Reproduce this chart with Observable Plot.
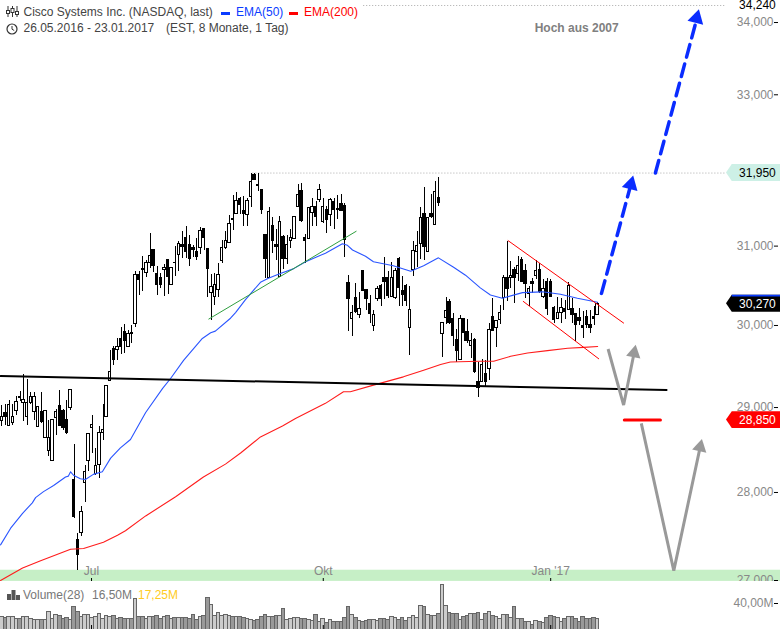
<!DOCTYPE html>
<html>
<head>
<meta charset="utf-8">
<script src="https://cdn.jsdelivr.net/npm/d3@7"></script>
<script src="https://cdn.jsdelivr.net/npm/@observablehq/plot@0.6"></script>
<style>
html,body{margin:0;padding:0;background:#fff;}
body{width:780px;height:629px;position:relative;overflow:hidden;font-family:"Liberation Sans",Arial,sans-serif;}
#chart svg{display:block;}
.t{position:absolute;font-size:12px;line-height:14px;white-space:pre;color:#444;}
.i{position:absolute;display:block;}
</style>
</head>
<body>
<div id="chart"></div>
<svg class="i" style="left:6px;top:6px" width="13" height="12" viewBox="0 0 13 12"><g stroke="#333" fill="none"><path d="M2 0v11M6.500 0v11M11 0v11"/><rect x="0.500" y="4.500" width="3" height="3" fill="#fff"/><rect x="5" y="2.500" width="3" height="4" fill="#fff"/><rect x="9.500" y="5.500" width="3" height="3" fill="#fff"/></g></svg>
<div class="t" style="left:23.500px;top:5px">Cisco Systems Inc. (NASDAQ, last)</div>
<div class="i" style="left:221px;top:12px;width:9px;height:3px;background:#0a3cff"></div>
<div class="t" style="left:236px;top:5px;color:#0a3cff">EMA(50)</div>
<div class="i" style="left:289px;top:12px;width:9px;height:3px;background:#f00"></div>
<div class="t" style="left:304px;top:5px;color:#f00">EMA(200)</div>
<svg class="i" style="left:6px;top:23px" width="12" height="12" viewBox="0 0 12 12"><circle cx="6" cy="6" r="5" fill="none" stroke="#333" stroke-width="1.200"/><path d="M6 3v3.200l2.200 1.300" fill="none" stroke="#333"/></svg>
<div class="t" style="left:23.500px;top:21px">26.05.2016 - 23.01.2017</div>
<div class="t" style="left:166px;top:21px">(EST, 8 Monate, 1 Tag)</div>
<svg class="i" style="left:7px;top:590px" width="13" height="10" viewBox="0 0 13 10"><path d="M0 4h4v6H0zM4.500 0h4v10h-4zM9 5h4v5H9z" fill="#555"/></svg>
<div class="t" style="left:23px;top:588px;color:#777">Volume(28)</div>
<div class="t" style="left:92px;top:588px;color:#777">16,50M</div>
<div class="t" style="left:138px;top:588px;color:#ffcc22">17,25M</div>
<script>
// Daily candles of Cisco, 26.05.2016 - 23.01.2017 (USD), one entry per trading day
const opens = [28.84,28.94,28.78,28.82,28.96,29.13,29.05,28.89,29.06,28.95,
28.77,28.95,28.64,28.48,28.37,28.87,29.02,28.96,28.85,29.00,
28.15,27.46,27.53,28.11,28.37,28.76,28.22,28.32,28.70,28.89,
29.32,29.71,29.70,29.83,29.92,29.74,29.91,30.02,30.63,30.71,
30.66,30.79,30.95,30.65,30.60,30.69,30.82,30.50,30.79,30.89,
31.01,31.10,31.01,30.97,30.92,30.97,31.22,30.96,30.40,30.36,
30.44,30.81,30.97,31.04,31.35,31.41,31.61,31.45,31.40,31.64,
31.93,31.79,31.73,31.14,30.60,31.26,31.01,30.61,31.12,30.84,
31.06,31.09,31.50,31.71,31.10,31.09,31.43,31.51,31.60,31.31,
31.47,31.40,31.57,31.48,31.54,31.52,30.53,30.08,30.34,30.13,
30.68,30.44,30.27,29.99,30.33,30.49,30.59,30.59,30.35,30.34,
30.84,30.43,30.49,29.97,30.70,30.93,31.03,31.41,30.92,31.42,
31.27,31.62,29.90,30.09,30.29,30.08,29.82,29.58,30.08,29.92,
29.75,29.82,29.31,29.31,29.41,29.47,30.10,29.97,30.07,30.34,
30.60,30.59,30.70,30.64,30.82,30.68,30.39,30.54,30.62,30.70,
30.36,30.55,30.54,30.22,30.08,30.16,30.21,30.19,30.21,30.14,
30.09,29.99,30.11,30.00,30.11,30.13];
const closes = [28.89,28.89,29.03,28.89,29.07,29.11,29.09,29.06,29.13,29.13,
29.01,28.83,28.96,28.64,28.85,28.95,28.78,28.76,28.70,29.21,
27.72,27.29,27.77,28.24,28.68,28.79,28.31,28.70,28.73,29.26,
29.43,29.58,29.74,29.74,29.81,29.90,29.90,30.63,30.57,30.69,
30.78,30.87,30.75,30.51,30.51,30.72,30.61,30.72,30.78,31.03,
30.99,30.93,30.84,30.95,30.86,31.19,31.11,30.71,30.48,30.51,
30.63,30.97,31.06,31.28,31.33,31.58,31.53,31.42,31.58,31.83,
31.86,31.78,31.46,30.84,31.44,31.06,30.99,31.31,30.83,31.01,
31.10,31.37,31.66,31.32,31.07,31.49,31.50,31.38,31.73,31.50,
31.34,31.60,31.47,31.46,31.45,31.08,30.33,30.16,30.17,30.21,
30.43,30.33,30.14,30.13,30.45,30.33,30.54,30.37,30.59,30.68,
30.47,30.38,30.31,30.19,30.94,31.00,31.36,30.99,31.36,31.37,
31.70,31.56,30.03,30.18,30.03,29.87,29.69,30.08,29.91,29.81,
29.81,29.43,29.24,29.52,29.31,29.94,29.93,30.05,30.16,30.59,
30.45,30.62,30.59,30.74,30.55,30.52,30.45,30.52,30.68,30.42,
30.45,30.21,30.36,30.07,30.16,30.22,30.17,30.49,30.13,30.01,
30.05,29.97,30.00,29.97,30.08,30.27];
const highs = [29.02,29.04,29.09,29.04,29.13,29.19,29.40,29.34,29.18,29.18,
29.01,29.18,28.97,28.85,28.85,28.98,29.21,28.98,29.09,29.22,
28.56,27.53,27.84,28.31,28.68,28.91,28.51,28.77,29.04,29.27,
29.69,29.74,29.84,29.97,30.01,29.94,30.00,30.68,30.68,30.87,
30.81,31.16,30.96,30.74,30.65,30.76,30.82,30.73,30.99,31.06,
31.19,31.25,31.14,31.01,31.10,31.24,31.23,30.96,30.64,30.65,
30.78,31.07,31.19,31.39,31.65,31.70,31.63,31.64,31.61,31.94,
31.94,31.94,31.73,31.14,31.50,31.37,31.21,31.38,31.14,31.14,
31.21,31.38,31.80,31.81,31.15,31.50,31.62,31.58,31.80,31.62,
31.51,31.62,31.62,31.66,31.67,31.55,30.63,30.25,30.53,30.41,
30.68,30.44,30.37,30.19,30.49,30.51,30.86,30.68,30.79,30.72,
30.86,30.61,30.51,30.49,31.06,31.19,31.50,31.76,31.36,31.67,
31.84,31.89,30.03,30.35,30.32,30.15,29.95,30.13,30.08,30.08,
29.90,29.84,29.55,29.58,29.57,30.02,30.33,30.05,30.25,30.63,
31.06,30.80,30.73,30.87,30.86,30.76,30.49,30.59,30.81,30.78,
30.57,30.59,30.57,30.24,30.35,30.34,30.31,30.54,30.34,30.15,
30.21,30.17,30.19,30.18,30.24,30.29];
const lows = [28.77,28.79,28.77,28.79,28.91,29.07,28.83,28.79,29.04,28.85,
28.77,28.81,28.63,28.42,28.37,28.67,28.77,28.73,28.68,28.96,
27.70,27.11,27.49,27.89,28.24,28.46,28.20,28.16,28.61,28.88,
29.32,29.51,29.57,29.64,29.65,29.74,29.78,29.98,30.37,30.43,
30.60,30.71,30.66,30.37,30.46,30.36,30.39,30.50,30.61,30.68,
30.84,30.84,30.74,30.85,30.82,30.89,30.95,30.35,30.06,30.25,
30.35,30.78,30.96,31.04,31.20,31.41,31.41,31.25,31.25,31.50,
31.86,31.71,31.41,30.59,30.60,30.91,30.82,30.61,30.70,30.76,
30.97,31.09,31.50,31.31,30.78,31.09,31.25,31.25,31.57,31.29,
31.16,31.25,31.21,31.34,31.45,30.85,29.93,29.86,30.15,30.09,
30.43,30.19,30.03,29.92,30.30,30.23,30.32,30.34,30.35,30.32,
30.23,30.23,30.24,29.63,30.61,30.73,30.83,30.81,30.92,31.35,
31.27,31.51,29.60,30.01,30.01,29.74,29.55,29.57,29.80,29.78,
29.59,29.41,29.12,29.30,29.25,29.33,29.93,29.73,30.01,30.19,
30.30,30.46,30.27,30.55,30.54,30.34,30.24,30.40,30.57,30.40,
30.34,30.13,30.36,30.02,30.07,30.02,30.08,30.18,30.02,29.80,
30.00,29.84,29.96,29.90,30.00,30.13];
// Volume in millions of shares
const volumes = [19.0,17.4,19.0,19.0,16.4,15.4,19.0,20.0,16.4,14.9,
14.9,14.9,14.9,26.7,16.4,22.6,20.5,16.4,18.0,13.9,
34.9,26.7,19.0,22.6,22.6,18.0,19.0,24.1,16.4,21.5,
19.0,20.5,16.4,18.0,16.4,16.4,16.4,47.2,19.0,19.0,
16.4,19.0,20.0,20.5,16.4,20.0,20.5,16.4,17.4,18.0,
17.4,18.0,15.4,22.6,14.9,19.0,20.5,48.7,38.0,21.5,
25.7,21.5,22.6,21.5,20.0,19.0,19.0,18.0,16.4,14.9,
12.8,13.9,19.0,22.6,19.0,20.0,21.5,21.5,31.8,13.9,
16.4,18.0,18.0,16.4,16.4,13.9,12.8,22.6,12.3,15.4,
10.3,13.9,12.3,12.3,12.3,18.0,34.9,22.6,18.0,12.8,
12.3,12.8,14.9,14.9,12.8,15.4,16.4,14.9,20.0,18.0,
14.9,18.0,12.8,18.0,21.5,18.0,36.9,34.9,22.6,21.0,
21.0,24.1,68.7,36.4,25.7,24.1,23.1,14.9,19.5,21.5,
24.1,23.1,25.7,14.9,24.1,26.7,21.5,19.0,16.4,22.6,
22.6,17.4,34.9,16.4,16.4,11.3,11.3,7.2,12.8,11.3,
10.3,18.0,20.5,19.0,18.0,11.3,16.4,19.5,19.5,16.4,
12.3,19.0,15.4,15.4,18.0,16.4];
// Moving averages read at (trading-day index, price)
const ema50Days = [-0.4,2.4,5.7,8.4,9.3,11.5,14.3,17.6,18.4,19,19.8,21.7,23.1,25.3,27.8,30.1,32.8,35.6,39.8,44.5,46.7,50.3,55.5,57.8,59.1,63.3,64.7,67.4,71.6,73.8,77.1,80.7,84.1,89.6,94.3,95.7,97.1,100.7,102.9,108.4,113.2,116.8,120.9,125.1,128.4,132.5,135.3,138.6,144.2,149.7,154.7,159.4,165];
const ema50Prices = [27.40,27.59,27.76,27.88,27.94,28.01,28.08,28.18,28.19,28.24,28.20,28.16,28.15,28.21,28.24,28.40,28.52,28.62,28.94,29.23,29.35,29.57,29.84,29.91,29.93,30.09,30.16,30.32,30.54,30.59,30.65,30.71,30.80,30.91,31.03,31.01,30.95,30.87,30.80,30.75,30.68,30.75,30.85,30.73,30.63,30.47,30.38,30.34,30.41,30.42,30.39,30.34,30.29];
const ema200Days = [-0.4,5.7,10.7,19,22.6,28.1,32,34.2,39.8,48.1,55.8,61.9,66.1,71.6,77.7,81.3,89.6,94.6,96.5,102.9,111.2,116.8,121.5,124.2,132,136.2,140.9,145.6,151.1,156.7,161.1,165];
const ema200Prices = [27.00,27.14,27.22,27.35,27.36,27.43,27.51,27.56,27.73,27.95,28.18,28.33,28.46,28.65,28.78,28.87,29.05,29.19,29.19,29.27,29.37,29.45,29.52,29.55,29.56,29.56,29.62,29.66,29.69,29.72,29.73,29.74];
// Axis
const priceTicks = [27,28,29,30,31,32,33,34];
const volumeTicks = [40];
const monthDays = [24.8,89,152];
const monthLabels = ["Jul","Okt","Jan '17"];
// Drawn trend lines: [day, price] pairs
const supportLine = [[-0.4,29.38],[184.1,29.21]];
const greenLine = [[57.3,30.08],[98.1,31.19]];
const channelUpper = [[140.2,31.07],[172.2,30.03]];
const channelLower = [[144.4,30.30],[165.3,29.59]];
const blueLeg1 = [[166.07,30.40],[174.1,31.78]];
const blueLeg2 = [[181,31.95],[192.2,34.0]];
const grayLeg1 = [[167.9,29.71],[172.2,29.03],[175.1,29.66]];
const grayLeg2 = [[177.1,28.81],[186.1,27.11],[193.4,28.53]];
const redBar = [[172.4,28.85],[182.4,28.85]];
const blueHeads = [{d:174.2,p:31.80,a:14.7},{d:192.4,p:34.06,a:14.8}];
const grayHeads = [{d:175.1,p:29.66,a:11.3},{d:193.4,p:28.53,a:12.4}];
const hoch = 34.24, resist = 31.95, lastPrice = 30.27, stopPrice = 28.85;

const candles = opens.map((o,i)=>({i,o,c:closes[i],h:highs[i],l:lows[i],v:volumes[i],up:closes[i]>=o}));
const xScale = {type:"linear",domain:[-0.4155,215.66],range:[0,780]};
const fmtP = d=>d.toFixed(3).replace(".",",");
const xy = a=>({x:d=>d[0],y:d=>d[1]});
const flag = (p,fill)=>{
  const k=1.0035;
  return Plot.area([[200.7,p,p],[202.3,p*k,p/k],[215.7,p*k,p/k]],{x1:d=>d[0],y1:d=>d[1],y2:d=>d[2],fill});
};
const labelDay = 214.35;

const price = Plot.plot({
  width:780,height:581,margin:0,
  style:{overflow:"hidden",background:"#fff",fontFamily:"'Liberation Sans',Arial,sans-serif",fontSize:"12px"},
  x:{...xScale,axis:null},
  y:{type:"log",domain:[27,34.24],range:[580,5],axis:null},
  marks:[
    Plot.rect([{}],{x1:-0.4155,x2:215.66,y1:27.115,y2:26.99,fill:"#c6efc6"}),
    Plot.ruleY([26.99],{stroke:"#888",strokeWidth:1,shapeRendering:"crispEdges"}),
    Plot.axisY(priceTicks,{anchor:"left",dx:778,tickSize:4,tickPadding:1,tickFormat:fmtP,stroke:"#000",fill:"#888",fontSize:12,label:null}),
    Plot.axisX(monthDays,{anchor:"top",dy:581,tickSize:4,tickPadding:3,tickFormat:(d,i)=>monthLabels[i],stroke:"#000",fill:"#888",fontSize:12,label:null}),
    Plot.ruleY([resist],{x1:69.5,x2:200.7,stroke:"#aaa",strokeDasharray:"1,2"}),
    Plot.ruleY([hoch],{x1:100.2,x2:200.7,stroke:"#aaa",strokeDasharray:"1,2"}),
    Plot.ruleX(candles,{x:"i",y1:"l",y2:"h",stroke:"#000",strokeWidth:1,shapeRendering:"crispEdges"}),
    Plot.rect(candles,{x1:d=>d.i-0.33,x2:d=>d.i+0.33,y1:"o",y2:"c",fill:d=>d.up?"#fff":"#000",stroke:"#000",strokeWidth:1,shapeRendering:"crispEdges"}),
    Plot.line(ema50Days.map((d,i)=>[d,ema50Prices[i]]),{...xy(),stroke:"#2a55ff",strokeWidth:1.1}),
    Plot.line(ema200Days.map((d,i)=>[d,ema200Prices[i]]),{...xy(),stroke:"#ff1c1c",strokeWidth:1.1}),
    Plot.line(supportLine,{...xy(),stroke:"#000",strokeWidth:2}),
    Plot.line(greenLine,{...xy(),stroke:"#2f9e3f",strokeWidth:1}),
    Plot.line(channelUpper,{...xy(),stroke:"#f00",strokeWidth:1}),
    Plot.line(channelLower,{...xy(),stroke:"#f00",strokeWidth:1}),
    Plot.line(grayLeg1,{...xy(),stroke:"#999",strokeWidth:3,strokeLinejoin:"miter",strokeLinecap:"butt"}),
    Plot.line(grayLeg2,{...xy(),stroke:"#999",strokeWidth:3,strokeLinejoin:"miter",strokeLinecap:"butt"}),
    Plot.dot(grayHeads,{x:"d",y:"p",symbol:"triangle",r:5.4,rotate:"a",fill:"#999",stroke:"none"}),
    Plot.line(redBar,{...xy(),stroke:"#f00",strokeWidth:3}),
    Plot.line(blueLeg1,{...xy(),stroke:"#0a2cff",strokeWidth:3.5,strokeDasharray:"13,7"}),
    Plot.line(blueLeg2,{...xy(),stroke:"#0a2cff",strokeWidth:3.5,strokeDasharray:"13,7"}),
    Plot.dot(blueHeads,{x:"d",y:"p",symbol:"triangle",r:6,rotate:"a",fill:"#0a2cff",stroke:"none"}),
    Plot.text(["Hoch aus 2007"],{x:159.2,y:33.92,fill:"#808080",fontWeight:"bold",fontSize:12,text:d=>d}),
    flag(resist,"#cdf0e6"),
    flag(lastPrice,"#000"),
    Plot.area([[202.3,lastPrice*1.0035,lastPrice*1.0028],[215.7,lastPrice*1.0035,lastPrice*1.0028]],{x1:d=>d[0],y1:d=>d[1],y2:d=>d[2],fill:"#0a3cff"}),
    flag(stopPrice,"#f00"),
    Plot.text([hoch],{x:labelDay,y:d=>d,text:fmtP,textAnchor:"end",fill:"#000",fontSize:12}),
    Plot.text([resist],{x:labelDay,y:d=>d,text:fmtP,textAnchor:"end",fill:"#000",fontSize:12}),
    Plot.text([lastPrice],{x:labelDay,y:d=>d,text:fmtP,textAnchor:"end",fill:"#fff",fontSize:12}),
    Plot.text([stopPrice],{x:labelDay,y:d=>d,text:fmtP,textAnchor:"end",fill:"#fff",fontSize:12})
  ]
});
const volume = Plot.plot({
  width:780,height:48,margin:0,
  style:{overflow:"hidden",background:"#fff",fontFamily:"'Liberation Sans',Arial,sans-serif",fontSize:"12px"},
  x:{...xScale,axis:null},
  y:{domain:[0,73.85],range:[48,0],axis:null},
  marks:[
    Plot.rect(candles,{x1:d=>d.i-0.5,x2:d=>d.i+0.5,y1:0,y2:"v",fill:d=>d.up?"#ccc":"#999",stroke:"#666",strokeWidth:1,shapeRendering:"crispEdges"}),
    Plot.axisY(volumeTicks,{anchor:"left",dx:778,tickSize:4,tickPadding:1,tickFormat:d=>d.toFixed(2).replace(".",",")+"M",stroke:"#000",fill:"#888",fontSize:12,label:null}),
    Plot.axisX(monthDays,{anchor:"top",dy:47,tickSize:4,tickFormat:null,text:null,stroke:"#000",label:null})
  ]
});
const host=document.getElementById("chart");
host.append(price,volume);
</script>
</body>
</html>
